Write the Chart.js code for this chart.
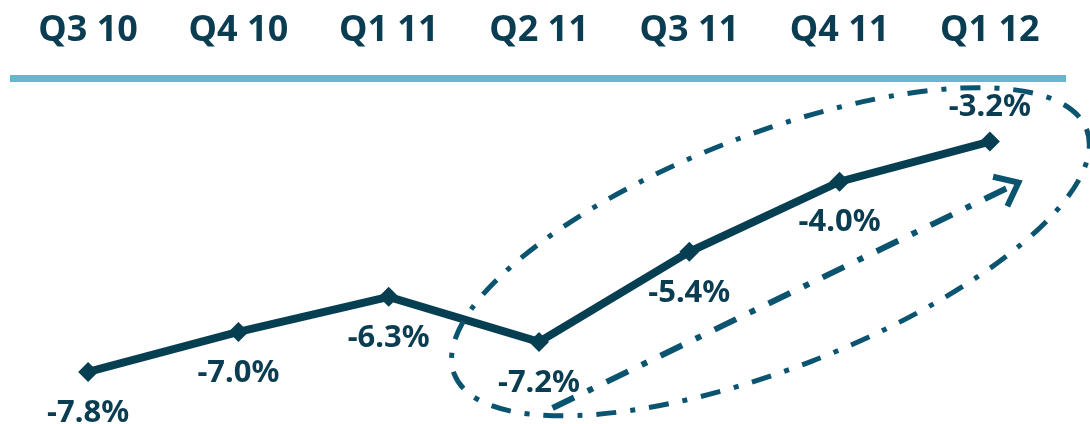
<!DOCTYPE html>
<html>
<head>
<meta charset="utf-8">
<title>Quarterly change</title>
<script src="https://cdn.jsdelivr.net/npm/chart.js@4.4.1/dist/chart.umd.min.js"></script>
<style>
    html, body { margin: 0; padding: 0; background: #ffffff; }
    #wrap { width: 1090px; height: 424px; position: relative; }
</style>
</head>
<body>
<div id="wrap"><canvas id="trendChart"></canvas></div>
<script>
// Quarter labels and year-on-year change (%)
const quarters = ['Q3 10', 'Q4 10', 'Q1 11', 'Q2 11', 'Q3 11', 'Q4 11', 'Q1 12'];
const changePct = [-7.8, -7.0, -6.3, -7.2, -5.4, -4.0, -3.2];

const colors = {
    line: '#073f52',
    text: '#0a3d52',
    accent: '#0b5470',
    rule: '#62b8cc'
};

const FONT = "'Noto Sans', 'DejaVu Sans', sans-serif";

// Highlight ring and trend arrow, given in axis units (category index, %)
const highlight = {
    ellipse: { x: 4.54, y: -5.4, rx: 339, ry: 117, angle: -21.2 },
    arrow: { from: [3.09, -8.52], to: [6.19, -4.02] }
};

// Value labels: printed under each point, except the last one above
const valueLabels = {
    id: 'valueLabels',
    afterDatasetsDraw(chart) {
        const ctx = chart.ctx;
        const meta = chart.getDatasetMeta(0);
        ctx.save();
        ctx.font = 'bold 31px ' + FONT;
        ctx.fillStyle = colors.text;
        ctx.textAlign = 'center';
        ctx.textBaseline = 'middle';
        meta.data.forEach((pt, i) => {
            const above = i === meta.data.length - 1;
            const y = above ? pt.y - 34 : pt.y + 41;
            ctx.fillText(changePct[i].toFixed(1) + '%', pt.x, y);
        });
        ctx.restore();
    }
};

const trendMarks = {
    id: 'trendMarks',
    afterDatasetsDraw(chart) {
        const ctx = chart.ctx;
        const xs = chart.scales.x, ys = chart.scales.y;
        const e = highlight.ellipse;

        ctx.save();
        ctx.strokeStyle = colors.accent;
        ctx.lineWidth = 5;
        ctx.setLineDash([20, 14, 5, 14]);
        ctx.beginPath();
        ctx.ellipse(xs.getPixelForValue(e.x), ys.getPixelForValue(e.y), e.rx, e.ry,
            e.angle * Math.PI / 180, 0, Math.PI * 2);
        ctx.stroke();

        // dash-dot arrow
        const x1 = xs.getPixelForValue(highlight.arrow.from[0]);
        const y1 = ys.getPixelForValue(highlight.arrow.from[1]);
        const x2 = xs.getPixelForValue(highlight.arrow.to[0]);
        const y2 = ys.getPixelForValue(highlight.arrow.to[1]);
        const ang = Math.atan2(y2 - y1, x2 - x1);
        ctx.lineWidth = 6;
        ctx.setLineDash([24, 15, 6, 15]);
        ctx.beginPath();
        ctx.moveTo(x1, y1);
        ctx.lineTo(x2 - 6 * Math.cos(ang), y2 - 6 * Math.sin(ang));
        ctx.stroke();

        ctx.setLineDash([]);
        ctx.lineJoin = 'miter';
        const head = 26, spread = 0.68;
        ctx.beginPath();
        ctx.moveTo(x2 - head * Math.cos(ang - spread), y2 - head * Math.sin(ang - spread));
        ctx.lineTo(x2, y2);
        ctx.lineTo(x2 - head * Math.cos(ang + spread), y2 - head * Math.sin(ang + spread));
        ctx.stroke();
        ctx.restore();
    }
};

function initTrendChart() {
    const ctx = document.getElementById('trendChart');

    new Chart(ctx, {
        type: 'line',
        data: {
            labels: quarters,
            datasets: [{
                data: changePct,
                borderColor: colors.line,
                backgroundColor: colors.line,
                borderWidth: 8,
                tension: 0,
                pointStyle: 'rectRot',
                pointRadius: 10,
                pointHoverRadius: 10,
                pointBorderWidth: 0,
                pointBackgroundColor: colors.line,
                clip: false
            }]
        },
        options: {
            responsive: true,
            maintainAspectRatio: false,
            animation: false,
            layout: {
                padding: { left: 13, right: 25, top: 0, bottom: 0 }
            },
            scales: {
                x: {
                    position: 'top',
                    offset: true,
                    grid: { display: false, drawTicks: false },
                    border: { display: true, color: colors.rule, width: 7 },
                    ticks: {
                        color: colors.text,
                        padding: 26,
                        font: { family: FONT, size: 36, weight: 'bold' }
                    },
                    afterFit: function(scale) {
                        scale.height = 78;
                    }
                },
                y: {
                    display: false,
                    min: -8.64,
                    max: -1.93
                }
            },
            plugins: {
                legend: { display: false },
                tooltip: { enabled: false }
            }
        },
        plugins: [trendMarks, valueLabels]
    });
}

document.addEventListener('DOMContentLoaded', initTrendChart);
</script>
</body>
</html>
